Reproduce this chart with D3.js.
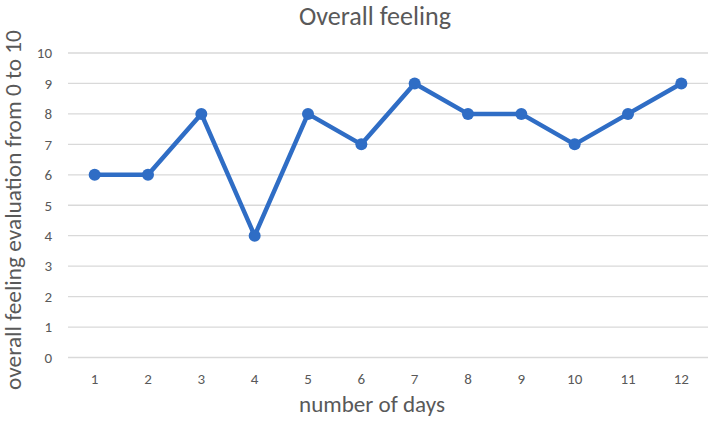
<!DOCTYPE html>
<html>
<head>
<meta charset="utf-8">
<script src="https://cdn.jsdelivr.net/npm/d3@7"></script>
<style>
  body { margin: 0; background: #fff; }
  text { font-family: Carlito, Lato, "Open Sans", sans-serif; }
</style>
</head>
<body>
<svg id="chart" width="710" height="421"></svg>
<script>
const days = ['1', '2', '3', '4', '5', '6', '7', '8', '9', '10', '11', '12'];
const feeling = [6, 6, 8, 4, 8, 7, 9, 8, 8, 7, 8, 9];
const yTicks = [0, 1, 2, 3, 4, 5, 6, 7, 8, 9, 10];

const margin = { top: 53, right: 2, bottom: 62, left: 68 };
const width = 710 - margin.left - margin.right;
const height = 421 - margin.top - margin.bottom;

const svg = d3.select('#chart');
const g = svg.append('g').attr('transform', `translate(${margin.left},${margin.top})`);

const x = d3.scaleBand().domain(days).range([0, width]);
const y = d3.scaleLinear().domain([0, 10]).range([height - 1.5, 0]);

// scale a label's font so it spans roughly the width seen in the reference
const fitText = (sel, target) => {
  const base = parseFloat(sel.style('font-size'));
  const w = sel.node().getComputedTextLength();
  sel.style('font-size', (base * target / w).toFixed(2) + 'px');
};

// gridlines
g.selectAll('.grid').data(yTicks).enter()
  .append('line')
  .attr('x1', 0).attr('x2', width)
  .attr('y1', d => y(d)).attr('y2', d => y(d))
  .attr('stroke', '#d9d9d9').attr('stroke-width', 1.3);

// y axis labels
const yAxis = g.append('g').call(d3.axisLeft(y).tickValues(yTicks).tickSize(0).tickPadding(16));
yAxis.select('.domain').remove();
yAxis.selectAll('text').attr('fill', '#595959').style('font-size', '15px')
  .style('font-family', 'Carlito, Lato, sans-serif');

// x axis labels
const xAxis = g.append('g').attr('transform', `translate(0,${y(0)})`)
  .call(d3.axisBottom(x).tickSize(0).tickPadding(16));
xAxis.select('.domain').remove();
xAxis.selectAll('text').attr('fill', '#595959').style('font-size', '15px')
  .style('font-family', 'Carlito, Lato, sans-serif');

// line
const line = d3.line().x((d, i) => x(days[i]) + x.bandwidth() / 2).y(d => y(d));
g.append('path').datum(feeling)
  .attr('fill', 'none').attr('stroke', '#2f6dc5')
  .attr('stroke-width', 4.5).attr('stroke-linejoin', 'round')
  .attr('d', line);

g.selectAll('.dot').data(feeling).enter()
  .append('circle')
  .attr('cx', (d, i) => x(days[i]) + x.bandwidth() / 2)
  .attr('cy', d => y(d))
  .attr('r', 6)
  .attr('fill', '#2f6dc5');

// title
const title = svg.append('text')
  .attr('x', 375).attr('y', 25)
  .attr('text-anchor', 'middle')
  .attr('fill', '#595959')
  .style('font-size', '24px')
  .text('Overall feeling');
fitText(title, 152);

// axis titles
const xTitle = svg.append('text')
  .attr('x', 372).attr('y', 412)
  .attr('text-anchor', 'middle')
  .attr('fill', '#595959')
  .style('font-size', '22px')
  .text('number of days');
fitText(xTitle, 146);

const yTitle = svg.append('text')
  .attr('transform', `translate(21,210) rotate(-90)`)
  .attr('text-anchor', 'middle')
  .attr('fill', '#595959')
  .style('font-size', '21px')
  .text('overall feeling evaluation from 0 to 10');
fitText(yTitle, 360);
</script>
</body>
</html>
